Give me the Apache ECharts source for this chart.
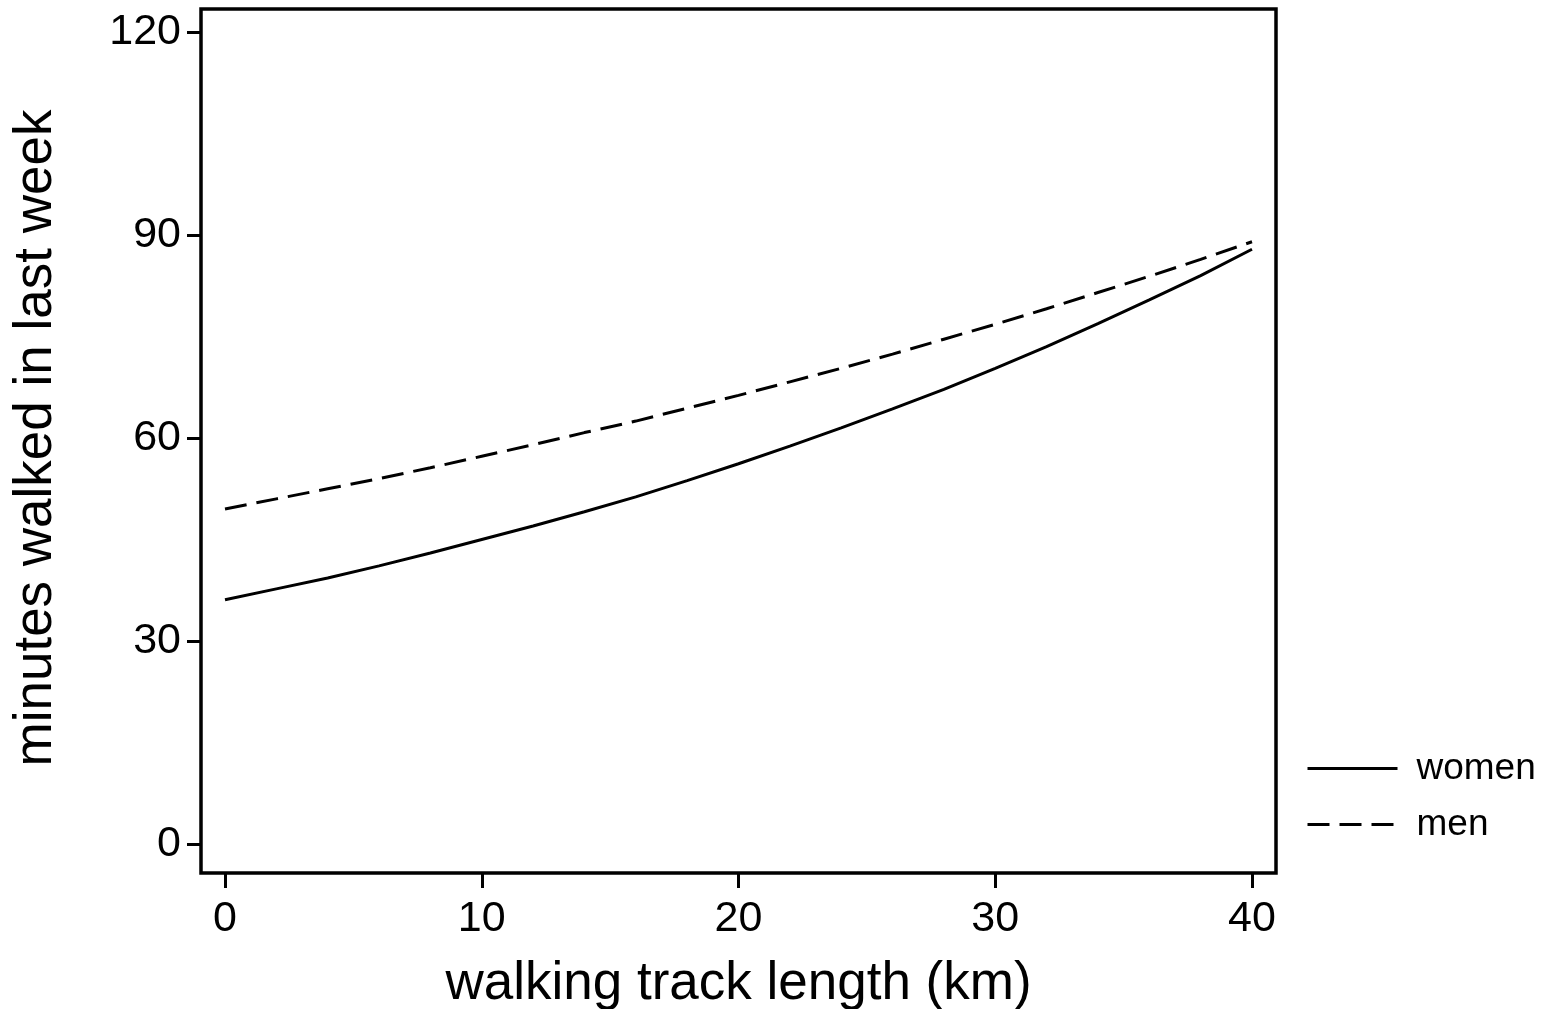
<!DOCTYPE html>
<html>
<head>
<meta charset="utf-8">
<script src="https://cdn.jsdelivr.net/npm/echarts@6/dist/echarts.min.js"></script>
<style>html,body{margin:0;padding:0;background:#fff}#c{width:1547px;height:1009px}</style>
</head>
<body>
<div id="c"></div>
<script>
var trackKm = [0, 2, 4, 6, 8, 10, 12, 14, 16, 18, 20, 22, 24, 26, 28, 30, 32, 34, 36, 38, 40];
var women = [36.1, 37.7, 39.3, 41.1, 43.0, 45.0, 47.0, 49.1, 51.3, 53.7, 56.2, 58.8, 61.5, 64.3, 67.2, 70.3, 73.5, 76.9, 80.4, 84.0, 87.9];
var men = [49.5, 51.0, 52.5, 54.0, 55.6, 57.3, 59.0, 60.8, 62.5, 64.4, 66.3, 68.3, 70.3, 72.4, 74.6, 76.8, 79.1, 81.5, 83.9, 86.4, 89.0];
var seriesNames = ['women', 'men'];
var xTitle = 'walking track length (km)';
var yTitle = 'minutes walked in last week';

function pairs(ys) { return trackKm.map(function (x, i) { return [x, ys[i]]; }); }

var font = 'Liberation Sans, Arial, Helvetica, sans-serif';
var chart = echarts.init(document.getElementById('c'), null, {renderer: 'canvas'});
chart.setOption({
  animation: false,
  backgroundColor: '#fff',
  grid: [
    {left: 225, top: 32, width: 1027, height: 812, show: false, containLabel: false, outerBoundsMode: 'none'},
    {left: 201, top: 9, width: 1075, height: 864, show: true, borderColor: '#000', borderWidth: 3.5, backgroundColor: 'transparent', outerBoundsMode: 'none'}
  ],
  legend: {
    orient: 'vertical',
    left: 1306,
    top: 750,
    padding: 0,
    itemWidth: 90,
    itemHeight: 36,
    itemGap: 19,
    itemStyle: {opacity: 0},
    lineStyle: {width: 3},
    textStyle: {fontFamily: font, fontSize: 37, color: '#000', padding: [0, 0, 0, 14], lineHeight: 36},
    data: seriesNames
  },
  xAxis: [
    {
      type: 'value', gridIndex: 0, min: 0, max: 40, interval: 10, offset: 29,
      axisLine: {show: false, onZero: false},
      axisTick: {show: true, length: 15, lineStyle: {color: '#000', width: 3}},
      axisLabel: {fontFamily: font, fontSize: 43, color: '#000', margin: 25},
      splitLine: {show: false},
      name: xTitle, nameLocation: 'middle', nameGap: 85,
      nameTextStyle: {fontFamily: font, fontSize: 53, color: '#000'}
    },
    {type: 'value', gridIndex: 1, show: false}
  ],
  yAxis: [
    {
      type: 'value', gridIndex: 0, min: 0, max: 120, interval: 30, offset: 24,
      axisLine: {show: false, onZero: false},
      axisTick: {show: true, length: 14, lineStyle: {color: '#000', width: 3}},
      axisLabel: {fontFamily: font, fontSize: 43, color: '#000', margin: 20},
      splitLine: {show: false},
      name: yTitle, nameLocation: 'middle', nameGap: 138,
      nameTextStyle: {fontFamily: font, fontSize: 53, color: '#000'}
    },
    {type: 'value', gridIndex: 1, show: false}
  ],
  series: [
    {
      name: seriesNames[0], type: 'line', xAxisIndex: 0, yAxisIndex: 0,
      data: pairs(women), showSymbol: false, symbol: 'none',
      lineStyle: {color: '#000', width: 3, type: 'solid'},
      itemStyle: {color: '#000'}
    },
    {
      name: seriesNames[1], type: 'line', xAxisIndex: 0, yAxisIndex: 0,
      data: pairs(men), showSymbol: false, symbol: 'none',
      lineStyle: {color: '#000', width: 3, type: [22, 10]},
      itemStyle: {color: '#000'}
    }
  ]
});
</script>
</body>
</html>
